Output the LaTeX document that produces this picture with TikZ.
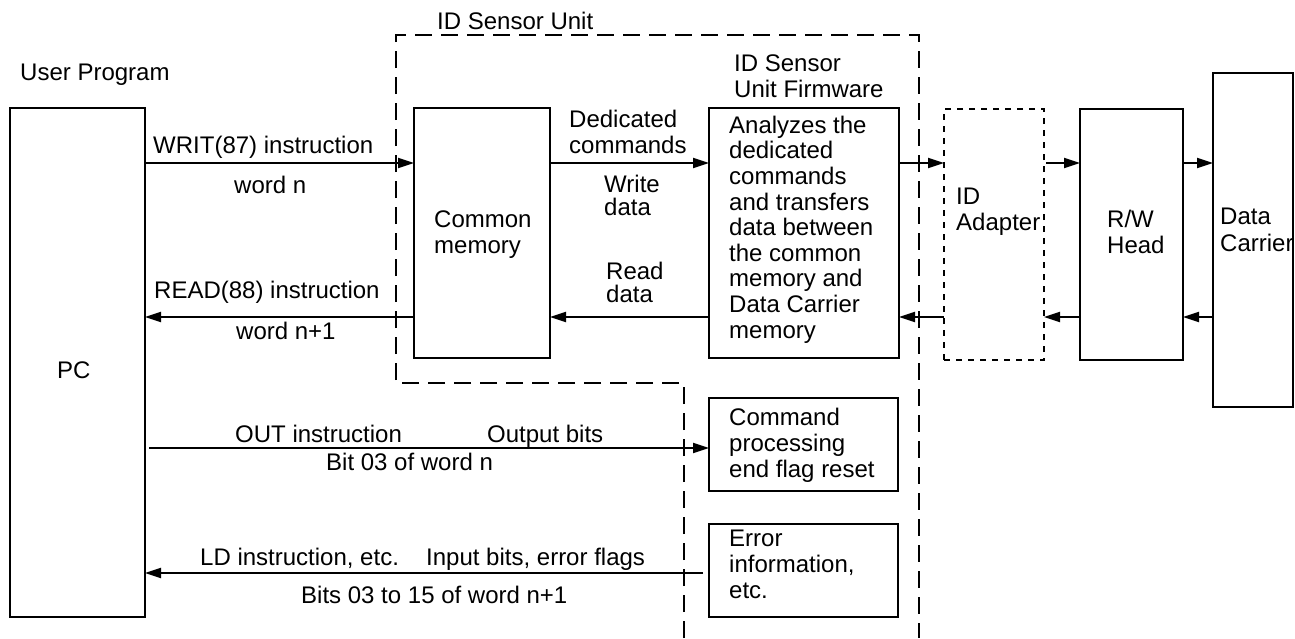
\documentclass[tikz,border=0pt]{standalone}
\usepackage{fontspec}
\setmainfont{Liberation Sans}
\usetikzlibrary{arrows.meta}
\begin{document}
\begin{tikzpicture}[x=1pt,y=-1pt,
  box/.style={draw, line width=2pt, inner sep=0pt, outer sep=0pt, anchor=north west},
  adapt/.style={draw, line width=2pt, dash pattern=on 6pt off 6pt, inner sep=0pt, outer sep=0pt, anchor=north west},
  arr/.style={line width=2pt, -{Triangle[length=16pt,width=10pt]}},
  txt/.style={anchor=base west, inner sep=0pt, align=left, font=\fontsize{24}{25.6}\selectfont},
  tight/.style={font=\fontsize{24}{23}\selectfont},
  loose/.style={font=\fontsize{24}{27}\selectfont},
  unitb/.style={line width=2pt, dash pattern=on 17pt off 9pt}]
\useasboundingbox (0,0) rectangle (1295,638);
% boxes
\node[box, minimum width=135pt, minimum height=509pt] (pc) at (10,108) {};
\node[box, minimum width=136pt, minimum height=250pt] (cm) at (414,108) {};
\node[box, minimum width=190pt, minimum height=250pt] (fw) at (709,108) {};
\node[adapt, minimum width=100pt, minimum height=251pt] (ad) at (944,109) {};
\node[box, minimum width=103pt, minimum height=251pt] (rw) at (1080,109) {};
\node[box, minimum width=80pt, minimum height=334pt] (dc) at (1213,73) {};
\node[box, minimum width=189pt, minimum height=93pt] (cmd) at (709,398) {};
\node[box, minimum width=189pt, minimum height=93pt] (err) at (709,524) {};
% unit boundary
\coordinate (u1) at (396,35);
\coordinate (u2) at (919,35);
\coordinate (u3) at (919,638);
\coordinate (u4) at (396,383);
\coordinate (u5) at (684,383);
\coordinate (u6) at (684,638);
\draw[unitb] (u6) -- (u5) -- (u4) -- (u1) -- (u2) -- (u3);
% texts (anchored at the baseline of the last line)
\node[txt] (tup) at (20,80) {User Program};
\node[txt] (tunit) at (437,29) {ID Sensor Unit};
\node[txt] (tfwt) at (734,97) {ID Sensor\\Unit Firmware};
\node[txt] (tded) at (569,153) {Dedicated\\commands};
\node[txt, tight] (twr) at (604,215) {Write\\data};
\node[txt, tight] (trd) at (606,302) {Read\\data};
\node[txt] (tcm) at (434,253) {Common\\memory};
\node[txt] (tfw) at (729,338) {Analyzes the\\dedicated\\commands\\and transfers\\data between\\the common\\memory and\\Data Carrier\\memory};
\node[txt] (tad) at (956,230) {ID\\Adapter};
\node[txt] (trw) at (1107,253) {R/W\\Head};
\node[txt, loose] (tdc) at (1220,251) {Data\\Carrier};
\node[txt] (tpc) at (57,378) {PC};
\node[txt] (l1) at (153,153) {WRIT(87) instruction};
\node[txt] (l2) at (234,193) {word n};
\node[txt] (l3) at (154,298) {READ(88) instruction};
\node[txt] (l4) at (236,339) {word n+1};
\node[txt] (l5) at (235,442) {OUT instruction};
\node[txt] (l6) at (487,442) {Output bits};
\node[txt] (l7) at (326,470) {Bit 03 of word n};
\node[txt] (l8) at (200,565) {LD instruction, etc.};
\node[txt] (l9) at (426,565) {Input bits, error flags};
\node[txt] (l10) at (301,603) {Bits 03 to 15 of word n+1};
\node[txt] (tcmd) at (729,477) {Command\\processing\\end flag reset};
\node[txt] (terr) at (729,598) {Error\\information,\\etc.};
% arrows
\draw[arr] (pc.east |- 0,163) -- (cm.west |- 0,163);
\draw[arr] (cm.west |- 0,317) -- (pc.east |- 0,317);
\draw[arr] (cm.east |- 0,163) -- (fw.west |- 0,163);
\draw[arr] (fw.west |- 0,317) -- (cm.east |- 0,317);
\draw[arr] (fw.east |- 0,163) -- (ad.west |- 0,163);
\draw[arr, shorten <=2pt] (ad.east |- 0,163) -- (rw.west |- 0,163);
\draw[arr] (rw.east |- 0,163) -- (dc.west |- 0,163);
\draw[arr] (dc.west |- 0,317) -- (rw.east |- 0,317);
\draw[arr] (rw.west |- 0,317) -- (ad.east |- 0,317);
\draw[arr] (ad.west |- 0,317) -- (fw.east |- 0,317);
\draw[arr, shorten <=4pt] (pc.east |- 0,448) -- (cmd.west |- 0,448);
\draw[arr, shorten <=6pt] (err.west |- 0,573) -- (pc.east |- 0,573);
\end{tikzpicture}
\end{document}
